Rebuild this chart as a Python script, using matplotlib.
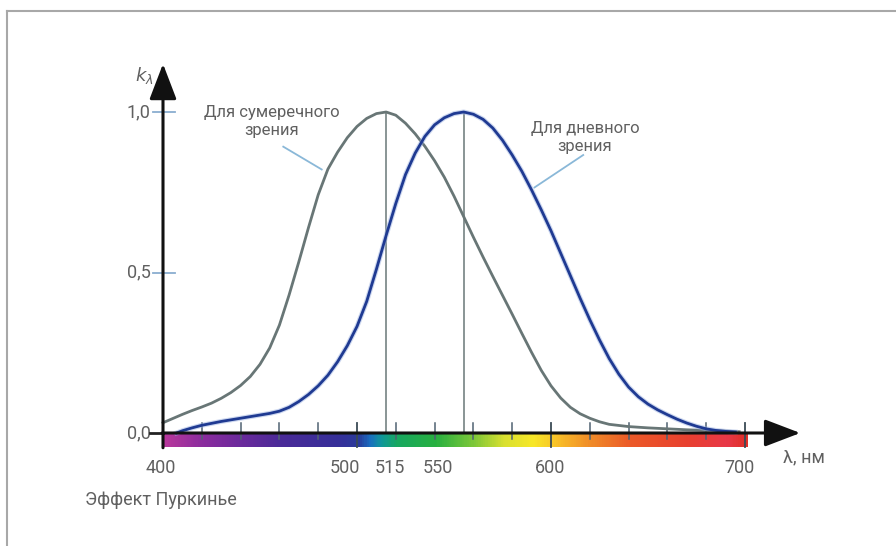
import matplotlib.pyplot as plt
import numpy as np
from matplotlib.colors import LinearSegmentedColormap
from matplotlib.lines import Line2D

plt.rcParams['font.family'] = ['Roboto', 'DejaVu Sans']

# кривая для сумеречного зрения (палочки), максимум 515 нм
night_nm = [400, 405, 410, 415, 420, 425, 430, 435, 440, 445, 450, 455, 460, 465, 470, 475, 480, 485,
            490, 495, 500, 505, 510, 515, 520, 525, 530, 535, 540, 545, 550, 555, 560, 565, 570, 575,
            580, 585, 590, 595, 600, 605, 610, 615, 620, 625, 630, 640, 650, 660, 670, 680, 690, 697]
night_k = [0.032, 0.045, 0.058, 0.070, 0.081, 0.093, 0.108, 0.126, 0.148, 0.176, 0.214, 0.265, 0.336,
           0.430, 0.533, 0.640, 0.742, 0.822, 0.875, 0.920, 0.955, 0.980, 0.995, 1.000, 0.990, 0.965,
           0.932, 0.893, 0.848, 0.797, 0.738, 0.674, 0.610, 0.548, 0.488, 0.429, 0.370, 0.310, 0.251,
           0.195, 0.147, 0.109, 0.080, 0.060, 0.046, 0.035, 0.027, 0.020, 0.016, 0.013, 0.010, 0.008,
           0.006, 0.004]

# кривая для дневного зрения (колбочки), максимум 555 нм
day_nm = [407, 410, 415, 420, 425, 430, 435, 440, 445, 450, 455, 460, 465, 470, 475, 480, 485, 490,
          495, 500, 505, 510, 515, 520, 525, 530, 535, 540, 545, 550, 555, 560, 565, 570, 575, 580,
          585, 590, 595, 600, 605, 610, 615, 620, 625, 630, 635, 640, 645, 650, 655, 660, 665, 670,
          675, 680, 685, 690, 695]
day_k = [0.0, 0.007, 0.016, 0.024, 0.030, 0.036, 0.041, 0.046, 0.051, 0.056, 0.061, 0.068, 0.080,
         0.098, 0.120, 0.147, 0.180, 0.222, 0.272, 0.332, 0.410, 0.510, 0.615, 0.715, 0.805, 0.872,
         0.924, 0.960, 0.982, 0.995, 1.000, 0.993, 0.977, 0.950, 0.912, 0.866, 0.815, 0.757, 0.695,
         0.630, 0.560, 0.490, 0.420, 0.353, 0.290, 0.232, 0.183, 0.143, 0.113, 0.090, 0.072, 0.057,
         0.043, 0.031, 0.021, 0.013, 0.008, 0.005, 0.003]

peaks = [515, 555]
minor_ticks = [420, 440, 460, 480, 520, 540, 560, 580, 620, 640, 660, 680]
major_ticks = [500, 600, 700]
# подписи оси x стоят в оригинале не строго под делениями
xlabels = ['400', '500', '515', '550', '600', '700']
xlabel_pos = [399, 493.8, 517, 541.8, 599.5, 697]
ylabels = ['0,0', '0,5', '1,0']
ytick_vals = [0.0, 0.5, 1.0]

spectrum_nm = [400, 420, 440, 460, 490, 500, 506, 512, 520, 540, 560, 575, 590, 605, 620, 640, 670, 690, 700]
spectrum_col = ['#b8389c', '#8a2c9e', '#6a2a9c', '#4a2a98', '#36309a', '#2a3a9a', '#1a6ec0', '#10989a',
                '#18a860', '#28b040', '#80c838', '#d8e030', '#f8e828', '#f8b828', '#f08a28', '#ec5a28',
                '#e84030', '#e83848', '#e03028']

W, H = 896, 546
fig = plt.figure(figsize=(W / 100, H / 100), dpi=100)
ax = fig.add_axes([0, 0, 1, 1])
ax.set_axis_off()

# пиксели -> данные: 400 нм = 163 px, 1.94 px/нм; k=0 -> 433 px, 321 px на единицу
ax.set_xlim(400 - 163 / 1.94, 400 + (W - 163) / 1.94)
ax.set_ylim((433 - H) / 321, 433 / 321)

text_col = '#606060'
fs = 12
fs_num = 13

# спектр
stops = [(n - 400) / 300 for n in spectrum_nm]
cmap = LinearSegmentedColormap.from_list('spec', list(zip(stops, spectrum_col)))
grad = np.linspace(0, 1, 600).reshape(1, -1)
ax.imshow(grad, cmap=cmap, aspect='auto', extent=[400, 701.5, -0.0435, -0.003], zorder=1)

# кривые
ax.plot(night_nm, night_k, color='#687676', lw=2.0, zorder=4, solid_joinstyle='round')
ax.plot(day_nm, day_k, color='#9ab0e0', lw=3.6, alpha=0.5, zorder=4, solid_joinstyle='round')
ax.plot(day_nm, day_k, color='#1f3a92', lw=2.0, zorder=5, solid_joinstyle='round')

for p in peaks:
    ax.plot([p, p], [0, 1.0], color='#6a7878', lw=1.1, zorder=3)

# деления
for t in minor_ticks:
    ax.plot([t, t], [0.031, -0.02], color='#4f6272', lw=1.1, zorder=3)
for t in major_ticks:
    ax.plot([t, t], [0.031, -0.043], color='#3a4a55', lw=1.3, zorder=3)
for v in ytick_vals[1:]:
    ax.plot([400 - 5, 400 + 6], [v, v], color='#8aaed0', lw=1.3, zorder=3)
ax.plot([393.3, 400], [0, 0], color='#222222', lw=2, zorder=6)

# оси со стрелками
arrow = dict(arrowstyle='-|>,head_length=1.1,head_width=0.42', color='#111111', lw=2.2,
             mutation_scale=20, shrinkA=0, shrinkB=0)
ax.annotate('', xy=(728.5, 0), xytext=(399.5, 0), arrowprops=arrow, zorder=7)
ax.annotate('', xy=(400, 1.15), xytext=(400, -0.046), arrowprops=arrow, zorder=7)

# подписи делений
for lab, pos in zip(xlabels, xlabel_pos):
    ax.text(pos, -0.11, lab, ha='center', va='center', fontsize=fs_num, color=text_col)
for lab, v in zip(ylabels, ytick_vals):
    ax.text(393.5, v, lab, ha='right', va='center', fontsize=fs_num, color=text_col)

ax.text(719.6, -0.075, 'λ, нм', ha='left', va='center', fontsize=fs_num, color=text_col)
ax.text(390.5, 1.115, '$k_{\\lambda}$', ha='center', va='center', fontsize=fs_num, color=text_col)
ax.text(359.8, -0.21, 'Эффект Пуркинье', ha='left', va='center', fontsize=13, color=text_col)

# подписи кривых с выносками
ax.text(456, 0.97, 'Для сумеречного\nзрения', ha='center', va='center', fontsize=fs,
        color=text_col, linespacing=1.25)
ax.plot([462, 481.8], [0.892, 0.821], color='#8ab8d8', lw=1.3, zorder=2)
ax.text(617.5, 0.92, 'Для дневного\nзрения', ha='center', va='center', fontsize=fs,
        color=text_col, linespacing=1.2)
ax.plot([616.6, 591.5], [0.866, 0.765], color='#8ab8d8', lw=1.3, zorder=6)

# рамка сверху и слева
fig.add_artist(Line2D([7 / W, 7 / W], [0, 1 - 11 / H], transform=fig.transFigure, color='#a8a8a8', lw=1.5))
fig.add_artist(Line2D([7 / W, 1], [1 - 11 / H, 1 - 11 / H], transform=fig.transFigure, color='#a8a8a8', lw=1.5))

fig.savefig('out.png', dpi=100)
